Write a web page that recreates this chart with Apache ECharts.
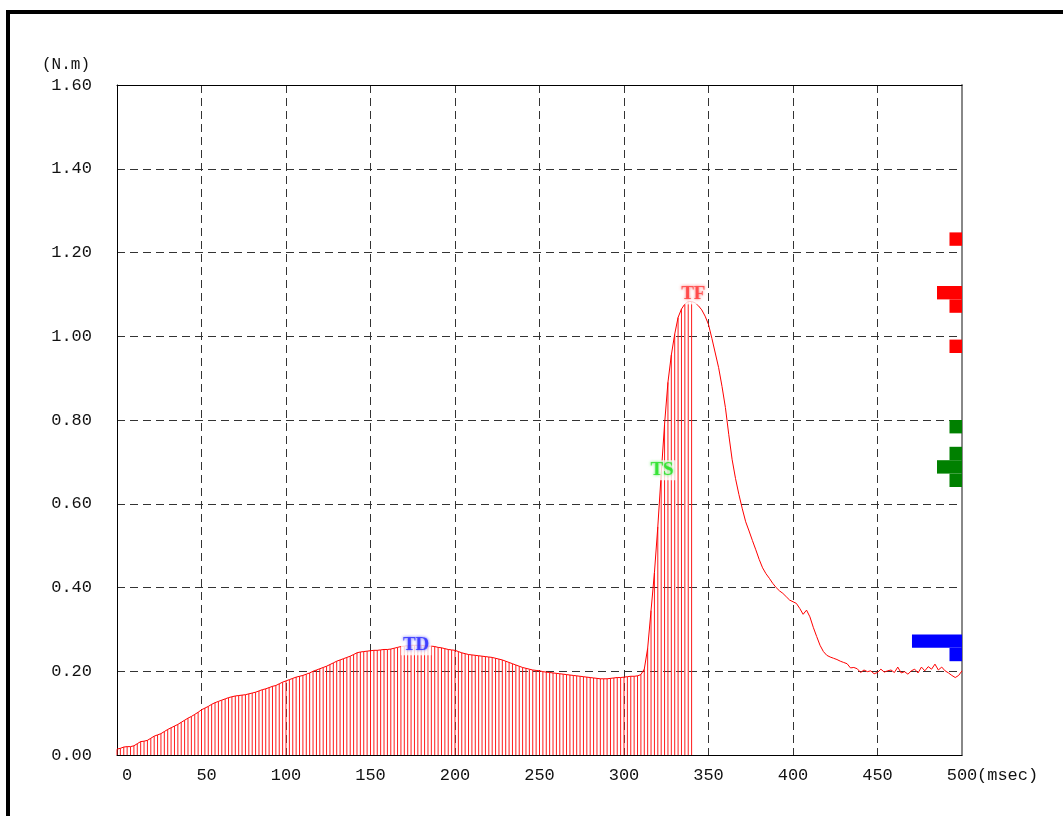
<!DOCTYPE html>
<html>
<head>
<meta charset="utf-8">
<script src="https://cdn.jsdelivr.net/npm/echarts@6/dist/echarts.min.js"></script>
<style>
html,body{margin:0;padding:0;background:#fff;}
#chart{width:1063px;height:816px;}
</style>
</head>
<body>
<div id="chart"></div>
<script>
// ---- data ----
const sampleStepMs = 2;
const torque = [
0.014,0.016,0.019,0.020,0.020,0.022,0.027,0.032,0.033,0.035,
0.040,0.045,0.048,0.051,0.056,0.061,0.065,0.069,0.073,0.078,
0.083,0.088,0.092,0.097,0.102,0.108,0.112,0.116,0.121,0.125,
0.128,0.131,0.134,0.137,0.139,0.141,0.142,0.143,0.144,0.146,
0.148,0.150,0.153,0.156,0.158,0.161,0.164,0.166,0.170,0.174,
0.177,0.180,0.183,0.186,0.188,0.190,0.193,0.196,0.200,0.203,
0.206,0.209,0.212,0.216,0.220,0.224,0.227,0.230,0.233,0.236,
0.240,0.244,0.246,0.247,0.248,0.249,0.250,0.250,0.251,0.252,
0.252,0.253,0.255,0.257,0.259,0.260,0.261,0.262,0.262,0.262,
0.262,0.261,0.260,0.260,0.259,0.257,0.256,0.254,0.252,0.251,
0.250,0.247,0.244,0.242,0.240,0.239,0.238,0.237,0.236,0.235,
0.234,0.233,0.231,0.229,0.227,0.224,0.221,0.218,0.215,0.212,
0.209,0.207,0.205,0.203,0.202,0.201,0.199,0.198,0.197,0.196,
0.195,0.194,0.193,0.192,0.191,0.190,0.189,0.188,0.187,0.186,
0.185,0.184,0.183,0.182,0.182,0.182,0.183,0.184,0.185,0.185,
0.186,0.187,0.188,0.188,0.189,0.192,0.205,0.255,0.345,0.435,
0.545,0.670,0.790,0.890,0.955,1.005,1.045,1.065,1.077,1.083,
1.083,1.080,1.073,1.063,1.048,1.028,0.995,0.960,0.925,0.880,
0.830,0.765,0.705,0.660,0.622,0.588,0.557,0.535,0.512,0.490,
0.467,0.447,0.433,0.422,0.410,0.400,0.392,0.386,0.378,0.370,
0.366,0.362,0.350,0.336,0.346,0.330,0.305,0.283,0.262,0.247,
0.238,0.234,0.231,0.228,0.224,0.221,0.218,0.208,0.209,0.206,
0.197,0.203,0.199,0.201,0.194,0.197,0.205,0.198,0.201,0.203,
0.197,0.210,0.196,0.199,0.193,0.201,0.205,0.196,0.210,0.201,
0.211,0.205,0.217,0.203,0.210,0.201,0.196,0.190,0.185,0.190,
0.201
];
const hatchEndMs = 340;

const xTicks = [0,50,100,150,200,250,300,350,400,450,500];
const yTicks = [0.00,0.20,0.40,0.60,0.80,1.00,1.20,1.40,1.60];

// histograms at right edge: bin lower edge (N.m) and counts
const histBinSize = 0.032;
const tfBins = [0.960, 1.056, 1.088, 1.216];
const tfCounts = [1, 1, 2, 1];
const tsBins = [0.640, 0.672, 0.704, 0.768];
const tsCounts = [1, 2, 1, 1];
const tdBins = [0.224, 0.256];
const tdCounts = [1, 4];

// point labels
const markNames = ['TD', 'TS', 'TF'];
const markTimes = [177, 322.5, 341];
const markValues = [0.262, 0.680, 1.100];

// ---- build ----
const lineData = torque.map((v, i) => [i * sampleStepMs, v]);
const hatchData = lineData.filter(d => d[0] <= hatchEndMs);

const histUnitMs = 7.4;
function histItems(bins, counts, color) {
  return bins.map((b, i) => ({ value: [b, b + histBinSize, counts[i]], itemStyle: { color: color } }));
}
const histData = [].concat(
  histItems(tfBins, tfCounts, '#ff0000'),
  histItems(tsBins, tsCounts, '#008000'),
  histItems(tdBins, tdCounts, '#0000ff')
);

const markColors = ['#2a2aff', '#22e022', '#ff3a3a'];
const markData = markNames.map((n, i) => ({
  name: n,
  value: [markTimes[i], markValues[i]],
  label: { color: markColors[i], textShadowColor: markColors[i] }
}));

const FONT = '"Liberation Mono", "DejaVu Sans Mono", monospace';
const chart = echarts.init(document.getElementById('chart'), null, { renderer: 'canvas' });

chart.setOption({
  animation: false,
  backgroundColor: '#ffffff',
  grid: { left: 117, right: 101, top: 85, bottom: 61, containLabel: false },
  xAxis: [{
    type: 'value', min: 0, max: 500, interval: 50, position: 'bottom',
    name: '(msec)', nameLocation: 'end', nameGap: 15, nameMoveOverlap: false,
    nameTextStyle: { fontFamily: FONT, fontSize: 17, color: '#111', align: 'left', verticalAlign: 'top', padding: [12, 0, 0, 0] },
    axisLine: { show: true, lineStyle: { color: '#000', width: 1 } },
    axisTick: { show: false },
    axisLabel: {
      fontFamily: FONT, fontSize: 17, color: '#111', margin: 12,
      formatter: v => { let s = String(v); while (s.length < 3) s = ' ' + s; return s; }
    },
    splitLine: { show: true, lineStyle: { color: '#333', type: [8, 5], width: 1 } }
  }, {
    type: 'value', min: 0, max: 500, position: 'top',
    axisLine: { show: true, onZero: false, lineStyle: { color: '#000', width: 1 } },
    axisTick: { show: false }, axisLabel: { show: false }, splitLine: { show: false }
  }],
  yAxis: [{
    type: 'value', min: 0, max: 1.6, interval: 0.2, position: 'left',
    name: '(N.m)', nameLocation: 'end', nameGap: 20, nameMoveOverlap: false,
    nameTextStyle: { fontFamily: FONT, fontSize: 16, color: '#111', align: 'right', verticalAlign: 'middle', padding: [0, 27, 0, 0] },
    axisLine: { show: true, lineStyle: { color: '#000', width: 1 } },
    axisTick: { show: false },
    axisLabel: { fontFamily: FONT, fontSize: 17, color: '#111', margin: 25, formatter: v => v.toFixed(2) },
    splitLine: { show: true, lineStyle: { color: '#333', type: [8, 5], width: 1 } }
  }, {
    type: 'value', min: 0, max: 1.6, position: 'right',
    axisLine: { show: true, onZero: false, lineStyle: { color: '#888', width: 2 } },
    axisTick: { show: false }, axisLabel: { show: false }, splitLine: { show: false }
  }],
  graphic: [
    { type: 'rect', shape: { x: 6, y: 10, width: 1057, height: 4 }, style: { fill: '#000' } },
    { type: 'rect', shape: { x: 6, y: 10, width: 4, height: 806 }, style: { fill: '#000' } }
  ],
  series: [
    {
      type: 'bar', xAxisIndex: 0, yAxisIndex: 0, data: hatchData, barWidth: 1,
      itemStyle: { color: '#ff1a1a' }, z: 2, silent: true
    },
    {
      type: 'line', xAxisIndex: 0, yAxisIndex: 0, data: lineData, showSymbol: false,
      lineStyle: { color: '#ff0000', width: 1 }, z: 3, silent: true
    },
    {
      type: 'custom', xAxisIndex: 0, yAxisIndex: 0, data: histData, z: 4, silent: true,
      renderItem: (params, api) => {
        const lo = api.value(0), hi = api.value(1), cnt = api.value(2);
        const p1 = api.coord([500 - cnt * histUnitMs, hi]);
        const p2 = api.coord([500, lo]);
        return {
          type: 'rect',
          shape: { x: p1[0], y: p1[1], width: p2[0] - p1[0], height: p2[1] - p1[1] },
          style: { fill: api.visual('color') }
        };
      }
    },
    {
      type: 'scatter', xAxisIndex: 0, yAxisIndex: 0, data: markData, symbolSize: 1,
      itemStyle: { color: 'rgba(0,0,0,0)' }, z: 5, silent: true,
      label: {
        show: true, position: 'inside', formatter: p => p.name,
        fontFamily: '"Liberation Serif", "DejaVu Serif", serif', fontWeight: 'bold', fontSize: 19,
        backgroundColor: '#ffffff', padding: [1, 2, 0, 2], textShadowBlur: 3
      }
    }
  ]
});
</script>
</body>
</html>
